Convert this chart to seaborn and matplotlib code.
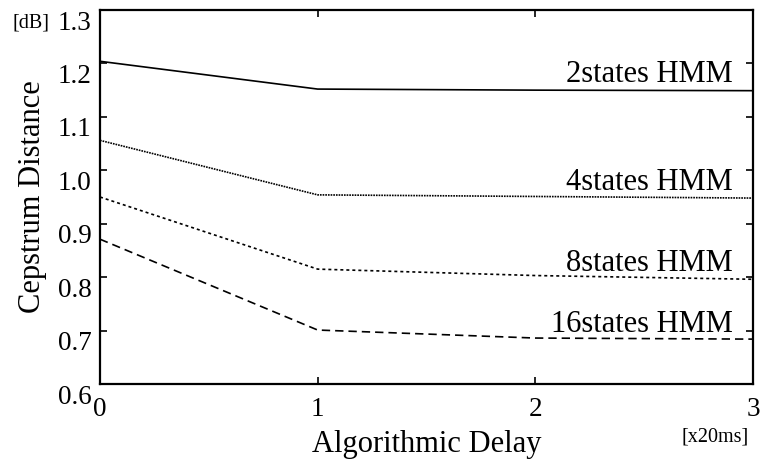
import numpy as np
import pandas as pd
import matplotlib
matplotlib.use("Agg")
import matplotlib.pyplot as plt
import matplotlib.transforms as mtransforms
import seaborn as sns

# Cepstrum distance vs. algorithmic delay for HMMs with different state counts
delay = [0, 1, 2, 3]
hmm_2 = [1.204, 1.152, 1.150, 1.149]
hmm_4 = [1.056, 0.954, 0.951, 0.948]
hmm_8 = [0.950, 0.815, 0.803, 0.796]
hmm_16 = [0.871, 0.701, 0.686, 0.684]
series_names = ["2states HMM", "4states HMM", "8states HMM", "16states HMM"]
yticks = [0.6, 0.7, 0.8, 0.9, 1.0, 1.1, 1.2, 1.3]
ytick_labels = ["0.6", "0.7", "0.8", "0.9", "1.0", "1.1", "1.2", "1.3"]
xticks = [0, 1, 2, 3]

df = pd.DataFrame({
    "delay": delay * 4,
    "dist": hmm_2 + hmm_4 + hmm_8 + hmm_16,
    "model": sum([[n] * len(delay) for n in series_names], []),
})

sns.set_theme(style="ticks")
plt.rcParams["font.family"] = ["Liberation Serif", "DejaVu Serif"]
plt.rcParams["text.color"] = "black"
plt.rcParams["axes.labelcolor"] = "black"
plt.rcParams["xtick.color"] = "black"
plt.rcParams["ytick.color"] = "black"

fig = plt.figure(figsize=(7.62, 4.59), dpi=100)
ax = fig.add_axes([100 / 762, 1 - 384 / 459, 653 / 762, 374 / 459])

dash_styles = {
    "2states HMM": "",
    "4states HMM": (1, 0.6),
    "8states HMM": (1.8, 1.8),
    "16states HMM": (5, 3),
}
sns.lineplot(data=df, x="delay", y="dist", style="model", dashes=dash_styles,
             color="black", linewidth=1.2, legend=False, ax=ax)

ax.set_xlim(0, 3)
ax.set_ylim(0.6, 1.3)
ax.set_xticks(xticks)
ax.set_yticks(yticks)
ax.set_yticklabels(ytick_labels)

ax.tick_params(direction="in", length=5, width=1.2, labelsize=19.5,
               top=True, right=True, colors="black")
ax.tick_params(axis="y", pad=6)
ax.tick_params(axis="x", pad=9)
for sp in ax.spines.values():
    sp.set_visible(True)
    sp.set_linewidth(1.6)
    sp.set_color("black")

# tick labels sit slightly below their ticks
off_y = mtransforms.ScaledTranslation(0, -10 / 100, fig.dpi_scale_trans)
for lab in ax.get_yticklabels():
    lab.set_transform(lab.get_transform() + off_y)

ax.set_xlabel("Algorithmic Delay", fontsize=22, labelpad=6)
ax.set_ylabel("Cepstrum Distance", fontsize=22, labelpad=8)

fig.text(31 / 762, 1 - 23 / 459, "[dB]", fontsize=14.5, ha="center", va="center")
fig.text(715 / 762, 1 - 437 / 459, "[x20ms]", fontsize=14.5, ha="center", va="center")

label_y = [1.165, 0.963, 0.8116, 0.698]
for name, yv in zip(series_names, label_y):
    ax.text(2.908, yv, name, fontsize=22, ha="right", va="baseline")

fig.savefig("out.png", dpi=100, facecolor="white")
